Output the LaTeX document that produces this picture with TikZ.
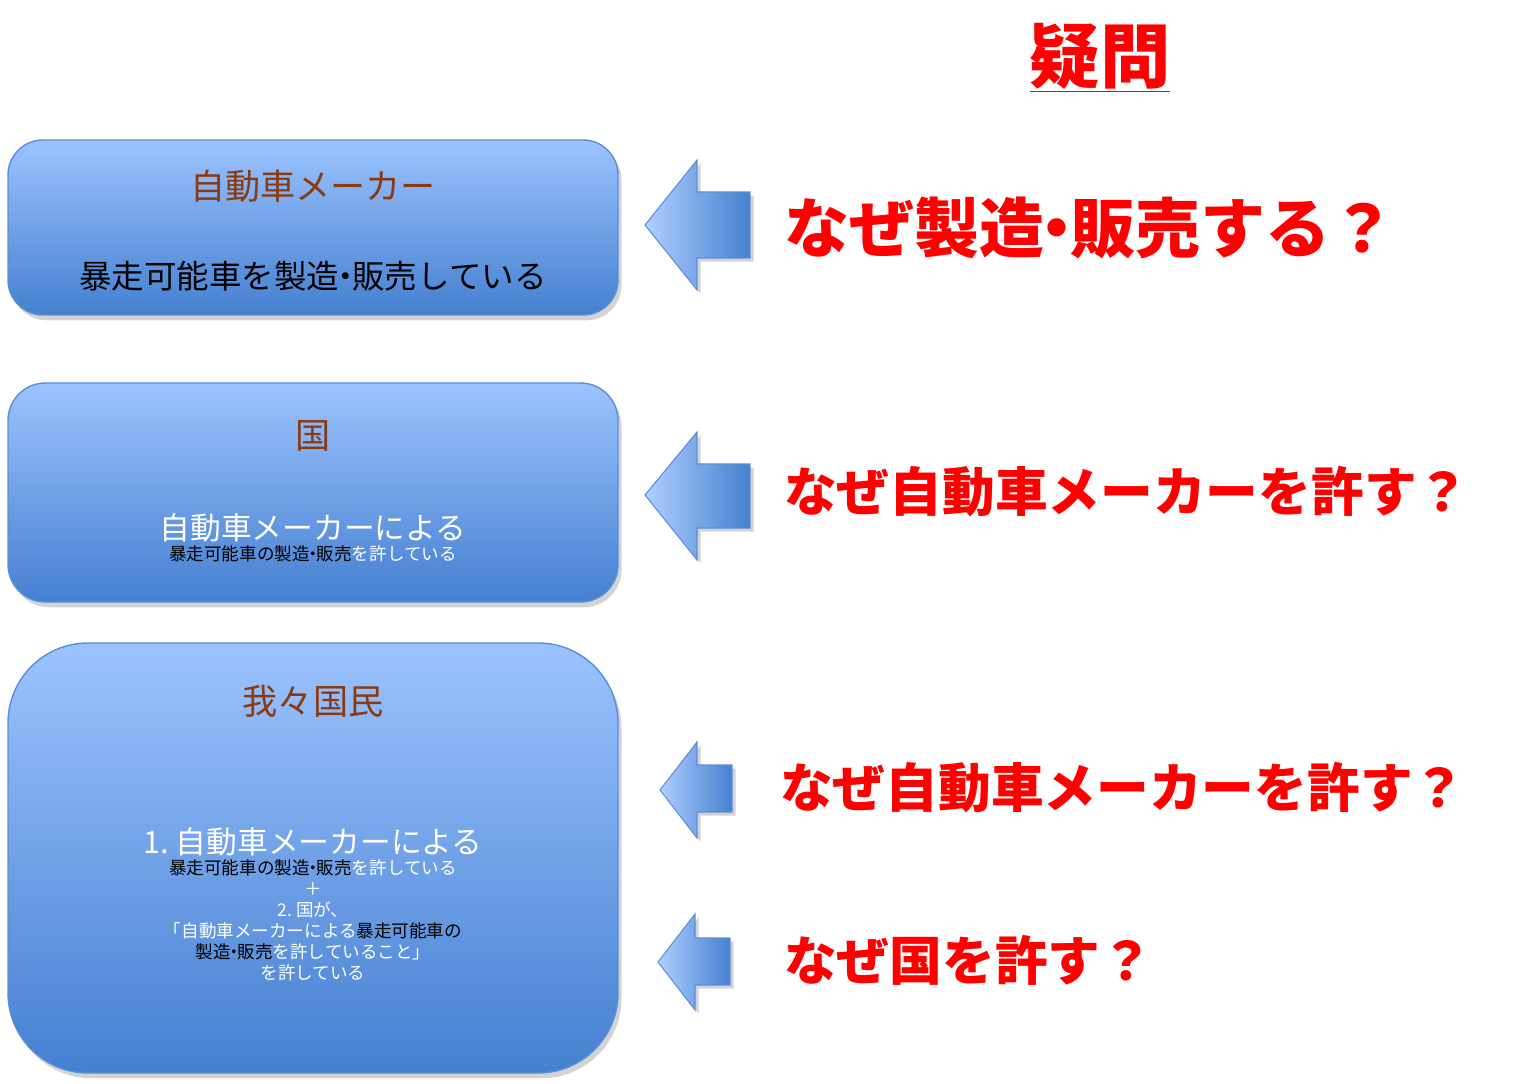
\documentclass[tikz,border=0pt]{standalone}
\usepackage{fontspec}
\setmainfont{Noto Sans CJK JP}
\usetikzlibrary{shadows}
\definecolor{brn}{HTML}{8B3A0F}
\definecolor{topb}{HTML}{9CC3FF}
\definecolor{botb}{HTML}{4580D0}
\definecolor{edgeb}{HTML}{5A8ED6}
\tikzset{
 bx/.style={draw=edgeb, line width=0.8pt, top color=topb, bottom color=botb, drop shadow={shadow xshift=2pt,shadow yshift=-3pt,opacity=0.35}},
 arr/.style={draw=edgeb, line width=0.6pt, left color=topb!80, right color=botb, drop shadow={shadow xshift=2pt,shadow yshift=-2pt,opacity=0.35}},
 red/.style={text=red, font=\bfseries},
}
\begin{document}
\begin{tikzpicture}[x=0.02cm,y=-0.02cm]
\useasboundingbox (0,0) rectangle (1515,1084);
% boxes
\path[bx, rounded corners=0.7cm] (8,140) rectangle (618,315);
\path[bx, rounded corners=0.75cm] (8,383) rectangle (618,602);
\path[bx, rounded corners=1.6cm] (8,643) rectangle (618,1073);
\node (t1) at (313,186) {\fontsize{20}{24}\selectfont\color{brn}自動車メーカー};
\node (l1) at (313,276) {\fontsize{18.5}{22}\selectfont 暴走可能車を製造\kern-0.3em・\kern-0.3em販売している};
\node (t2) at (313,436) {\fontsize{20}{24}\selectfont\color{brn}国};
\node (l2) at (313,538) [align=center] {\fontsize{17.5}{22.5}\selectfont \color{white}自動車メーカーによる\\ \color{black}暴走可能車の製造\kern-0.3em・\kern-0.3em販売\color{white}を許している};
\node (t3) at (313,701) {\fontsize{20}{24}\selectfont\color{brn}我々国民};
\node (l3) at (313,904) [align=center] {\fontsize{17.5}{22.7}\selectfont \color{white}1.\ 自動車メーカーによる\\
\color{black}暴走可能車の製造\kern-0.3em・\kern-0.3em販売\color{white}を許している\\
\color{white}＋\\
\color{white}2.\ 国が、\\
\color{white}「自動車メーカーによる\color{black}暴走可能車の\\
\color{black}製造\kern-0.3em・\kern-0.3em販売\color{white}を許していること」\\
\color{white}を許している};
% arrows
\path[arr] (645,225) -- (697,160) -- (697,192) -- (750,192) -- (750,258) -- (697,258) -- (697,290) -- cycle;
\path[arr] (645,495) -- (697,432) -- (697,464) -- (750,464) -- (750,528) -- (697,528) -- (697,560) -- cycle;
\path[arr] (660,790) -- (697,742) -- (697,765) -- (732,765) -- (732,812) -- (697,812) -- (697,838) -- cycle;
\path[arr] (658,962) -- (695,914) -- (695,938) -- (730,938) -- (730,985) -- (695,985) -- (695,1010) -- cycle;
% red texts
\node[red] (q0) at (1100,58) {\fontsize{40}{44}\selectfont\underline{疑問}};
\node[red, anchor=west] (q1) at (778,228) {\fontsize{37}{40}\selectfont なぜ製造\kern-0.3em・\kern-0.3em販売する？};
\node[red, anchor=west] (q2) at (778,492) {\fontsize{30}{34}\selectfont なぜ自動車メーカーを許す？};
\node[red, anchor=west] (q3) at (774,788) {\fontsize{30}{34}\selectfont なぜ自動車メーカーを許す？};
\node[red, anchor=west] (q4) at (778,960) {\fontsize{30}{34}\selectfont なぜ国を許す？};
\end{tikzpicture}
\end{document}
